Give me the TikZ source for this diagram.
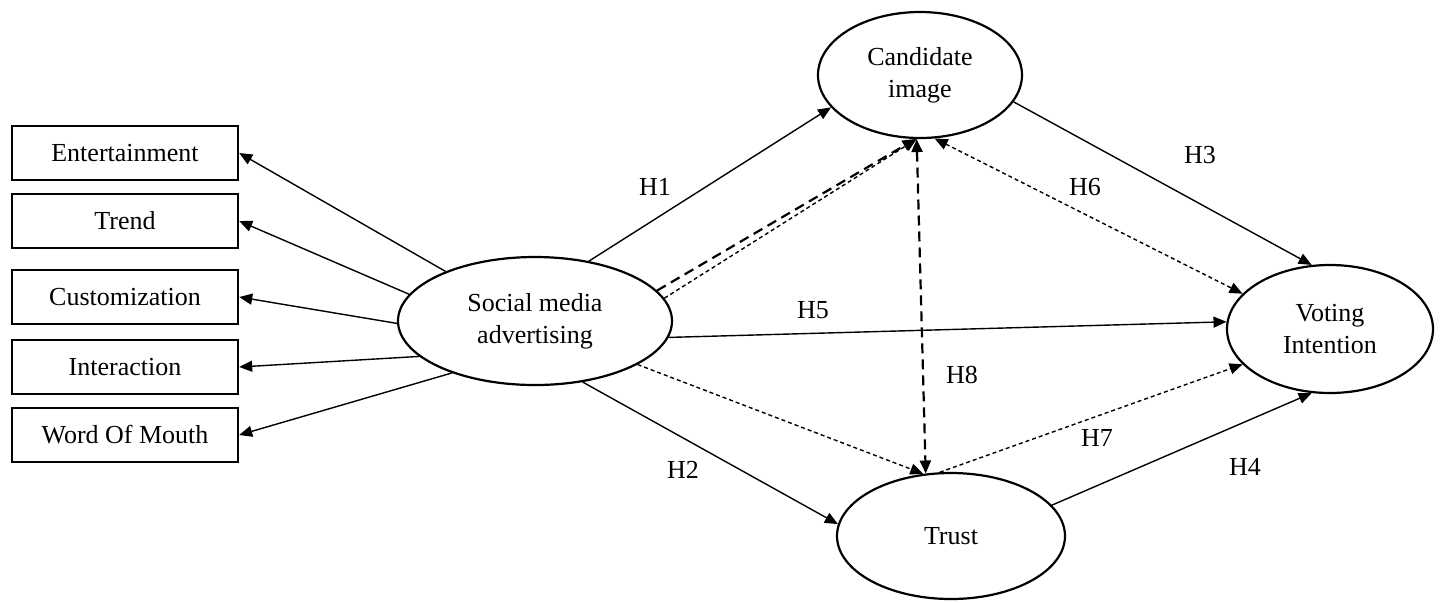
\documentclass[tikz,border=0pt]{standalone}
\usepackage{fontspec}
\setmainfont{Liberation Serif}
\usetikzlibrary{arrows.meta,shapes.geometric}
\tikzset{
>={Triangle[length=6.5pt,width=5.5pt]},
  construct/.style={
    ellipse,
    draw=black, line width=1.1pt,
    inner sep=0pt,
    align=center,
    font=\fontsize{13}{16}\selectfont},
  dimension/.style={
    rectangle,
    draw=black, line width=1.2pt,
    minimum width=113pt,
    minimum height=27pt,
    inner sep=0pt,
    font=\fontsize{13}{16}\selectfont},
  line/.style={draw, line width=0.7pt, ->},
  medline/.style={draw, line width=0.7pt, ->, dash pattern=on 2pt off 1.5pt},
  modline/.style={draw, line width=1.1pt, ->, dash pattern=on 5pt off 3pt},
  hyp/.style={font=\fontsize{13}{16}\selectfont},
}

\begin{document}
\begin{tikzpicture}[x=0.5pt,y=-0.5pt]
    \useasboundingbox (0,0) rectangle (1442,602);

    % constructs
    \node[construct, minimum width=137pt, minimum height=64pt] (soc) at (535,321) {Social media\\advertising};
    \node[construct, minimum width=102pt, minimum height=63pt] (cand) at (920,75) {Candidate\\image};
    \node[construct, minimum width=103pt, minimum height=64pt] (vote) at (1330,329) {Voting\\Intention};
    \node[construct, minimum width=114pt, minimum height=63pt] (trust) at (951,536) {Trust};

    % dimensions of social media advertising
    \node[dimension] (ent) at (125,153) {Entertainment};
    \node[dimension] (trend) at (125,221) {Trend};
    \node[dimension] (cust) at (125,297) {Customization};
    \node[dimension] (inter) at (125,367) {Interaction};
    \node[dimension] (wom) at (125,435) {Word Of Mouth};

    \draw[line] (soc.151) -- (ent.east);
    \draw[line] (soc.168) -- (trend.east);
    \draw[line] (soc.181) -- (cust.east);
    \draw[line] (soc.197) -- (inter.east);
    \draw[line] (soc.212) -- (wom.east);

    % direct paths
    \draw[line] (soc.48) -- (cand.200);
    \draw[line] (soc.308) -- (trust.174);
    \draw[line] (soc.353) -- (vote.176);
    \draw[line] (cand.344) -- (vote.106);
    \draw[line] (trust.17) -- (vote.254);

    % indirect paths
    \draw[modline] (soc.14) -- (cand.266);
    \draw[medline] (soc.10) -- (cand.267);
    \draw[medline, <->] (cand.283) -- (vote.158);
    \draw[medline] (soc.337) -- (trust.114);
    \draw[medline] (trust.100) -- (vote.202);
    \draw[modline, <->] (cand.267) -- (trust.112);

    \node[hyp] (h1) at (655,187) {H1};
    \node[hyp] (h2) at (683,470) {H2};
    \node[hyp] (h3) at (1200,155) {H3};
    \node[hyp] (h4) at (1245,467) {H4};
    \node[hyp] (h5) at (813,310) {H5};
    \node[hyp] (h6) at (1085,187) {H6};
    \node[hyp] (h7) at (1097,438) {H7};
    \node[hyp] (h8) at (962,375) {H8};
\end{tikzpicture}
\end{document}
